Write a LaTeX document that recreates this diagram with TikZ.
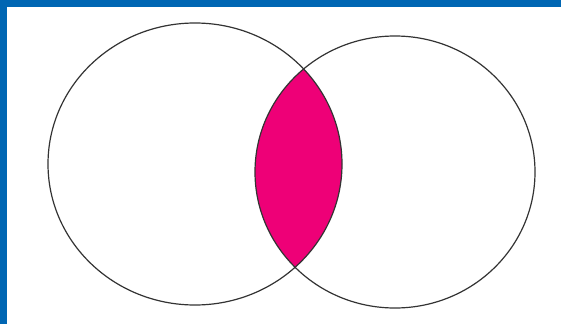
\documentclass[tikz,border=0pt]{standalone}
\usepackage{xcolor}
\usepackage{tikz}

\definecolor{frameblue}{RGB}{0,102,179}
\definecolor{lenspink}{RGB}{238,0,119}

\begin{document}
\begin{tikzpicture}[
    x=1pt,y=-1pt,
    ring/.style={draw=black!80,line width=1.2pt},
    overlap/.style={fill=lenspink},
    band/.style={fill=frameblue}
]
\useasboundingbox (0,0) rectangle (561,324);
\fill[white] (0,0) rectangle (561,324);
\fill[band] (0,0) rectangle (561,7);
\fill[band] (0,0) rectangle (7,324);
% shaded part shared by both sets
\begin{scope}
\clip (195,164) ellipse [x radius=147,y radius=141];
\fill[overlap] (395,172) ellipse [x radius=140,y radius=136];
\end{scope}
\draw[ring] (195,164) ellipse [x radius=147,y radius=141];
\draw[ring] (395,172) ellipse [x radius=140,y radius=136];
\end{tikzpicture}
\end{document}
